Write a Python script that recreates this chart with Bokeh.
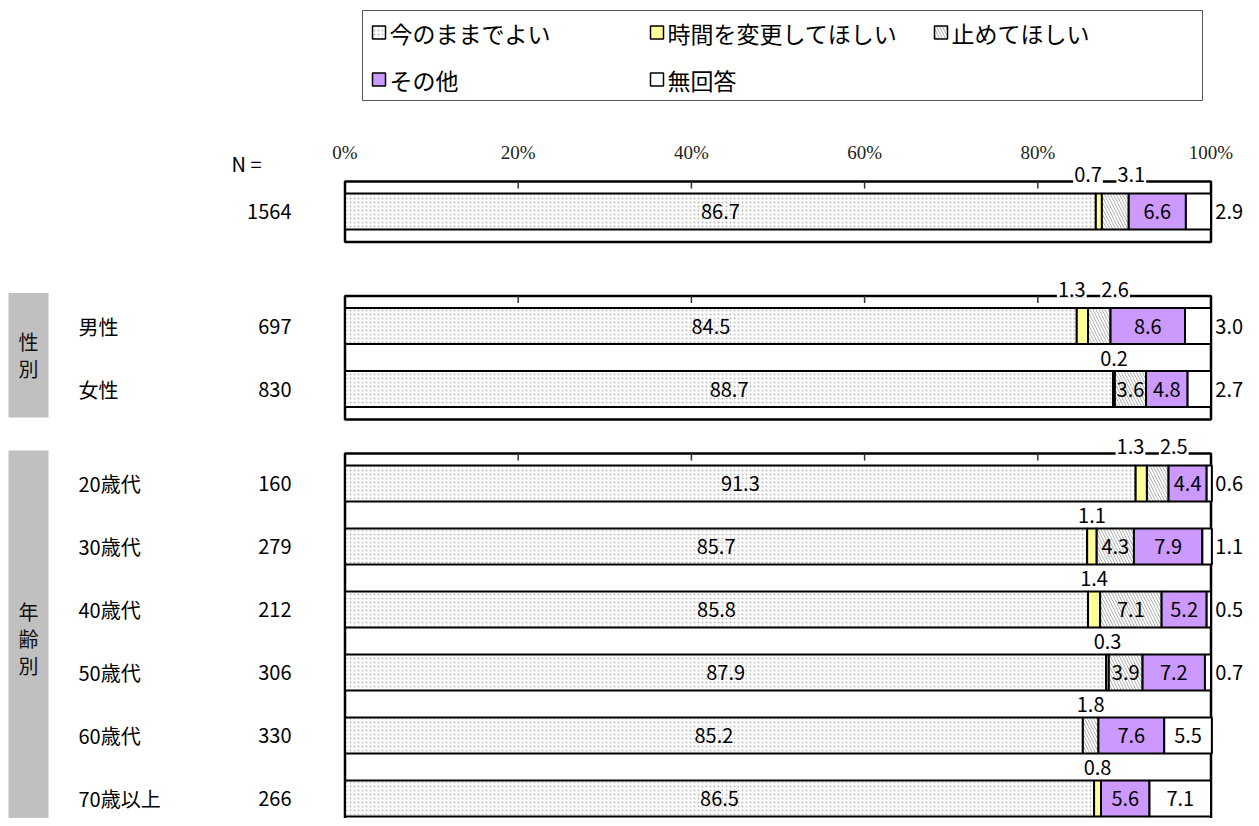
import numpy as np
from bokeh.plotting import figure
from bokeh.models import Range1d, ColumnDataSource
from bokeh.core.properties import value
from bokeh.embed import file_html
from bokeh.resources import INLINE

# ---------------- data ----------------
row_labels = ["", "男性", "女性", "20歳代", "30歳代", "40歳代", "50歳代", "60歳代", "70歳以上"]
row_group = [0, 1, 1, 2, 2, 2, 2, 2, 2]
group_titles = ["", "性\n別", "年\n齢\n別"]
n_counts = [1564, 697, 830, 160, 279, 212, 306, 330, 266]
series_names = ["今のままでよい", "時間を変更してほしい", "止めてほしい", "その他", "無回答"]
keep = [86.7, 84.5, 88.7, 91.3, 85.7, 85.8, 87.9, 85.2, 86.5]
change_time = [0.7, 1.3, 0.2, 1.3, 1.1, 1.4, 0.3, 0.0, 0.8]
stop = [3.1, 2.6, 3.6, 2.5, 4.3, 7.1, 3.9, 1.8, 0.0]
other = [6.6, 8.6, 4.8, 4.4, 7.9, 5.2, 7.2, 7.6, 5.6]
no_answer = [2.9, 3.0, 2.7, 0.6, 1.1, 0.5, 0.7, 5.5, 7.1]
tick_values = [0, 20, 40, 60, 80, 100]
tick_labels = ["0%", "20%", "40%", "60%", "80%", "100%"]

# ---------------- layout (figure pixels) ----------------
W, H = 1251, 818
X0_PX, X100_PX = 344.5, 1210.5
PPU = (X100_PX - X0_PX) / 100.0
XS = -X0_PX / PPU
XE = XS + W / PPU


def fx(px):
    return XS + px / PPU


frame_tops = [181, 295.5, 453]
ROW_OFF = 30.0
ROW_STEP = 63.0
BAR_H = 36
PAD_BOTTOM = 30.5

row_y, idx_in_group, counter = [], [], {}
for g in row_group:
    k = counter.get(g, 0)
    row_y.append(frame_tops[g] + ROW_OFF + k * ROW_STEP)
    idx_in_group.append(k)
    counter[g] = k + 1
frame_bottoms = [max(y for y, g2 in zip(row_y, row_group) if g2 == g) + PAD_BOTTOM for g in range(3)]

SANS = value("Noto Sans CJK JP")
SERIF = value("Liberation Serif")

styles = [
    dict(fill_color="white", hatch_pattern="dot", hatch_color="#bdbdbd", hatch_scale=4, hatch_weight=0.8),
    dict(fill_color="#FFFF99"),
    dict(fill_color="white", hatch_pattern="left_diagonal_line", hatch_color="#b0b0b0", hatch_scale=6, hatch_weight=1),
    dict(fill_color="#CC99FF"),
    dict(fill_color="white"),
]

p = figure(width=W, height=H, x_range=Range1d(XS, XE), y_range=Range1d(H, 0),
           output_backend="svg", toolbar_location=None, min_border=0,
           x_axis_location=None, y_axis_location=None)
p.grid.visible = False
p.outline_line_color = None
p.background_fill_color = "white"

# gray group boxes
for g in (1, 2):
    top = frame_tops[g] - 3
    bot = frame_bottoms[g] - 2
    p.quad(left=[fx(8)], right=[fx(48)], top=[top], bottom=[bot], fill_color="#C0C0C0", line_color=None)
    p.text(x=[fx(28)], y=[(top + bot) / 2], text=[group_titles[g]], text_font=SANS, text_font_size="20px",
           text_align="center", text_baseline="middle", text_line_height=0.93, text_color="#111111")

# frames
p.quad(left=[0] * 3, right=[100] * 3, top=frame_tops, bottom=frame_bottoms,
       fill_color=None, line_color="black", line_width=2.5)
# tick marks inside frames
tx, ty0, ty1 = [], [], []
for ft in frame_tops:
    for t in tick_values[1:-1]:
        tx.append(t); ty0.append(ft); ty1.append(ft + 7)
p.segment(x0=tx, y0=ty0, x1=tx, y1=ty1, line_color="#333333", line_width=1.5)

# tick labels
p.text(x=tick_values, y=[152] * len(tick_values), text=tick_labels, text_font=SERIF,
       text_font_size="19px", text_align="center", text_baseline="middle", text_color="#222222")

# bars
vals = np.array([keep, change_time, stop, other, no_answer], dtype=float)
cum = np.cumsum(vals, axis=0)
lefts = cum - vals
ry = np.array(row_y)
for s in range(5):
    mask = vals[s] > 0
    src = ColumnDataSource(dict(y=ry[mask], left=lefts[s][mask], right=cum[s][mask]))
    p.hbar(y="y", left="left", right="right", height=BAR_H, source=src,
           line_color="black", line_width=2, **styles[s])

# value labels
in_x, in_y, in_t = [], [], []
out_x, out_y, out_t = [], [], []
ab_x, ab_y, ab_t = [], [], []
for r in range(len(row_y)):
    above = []
    for s in range(5):
        v = vals[s][r]
        if v <= 0:
            continue
        c = lefts[s][r] + v / 2
        t = f"{v:.1f}"
        if s in (0, 3) or (s == 2 and v >= 3.5) or (s == 4 and v >= 5):
            in_x.append(c); in_y.append(row_y[r]); in_t.append(t)
        elif s == 4:
            out_x.append(100.5); out_y.append(row_y[r]); out_t.append(t)
        else:
            above.append((c, t))
    ya = row_y[r] - 37 if idx_in_group[r] == 0 else row_y[r] - 31
    if len(above) == 2:
        m = (above[0][0] + above[1][0]) / 2
        xs = [m - 2.2, m + 2.8]
    else:
        xs = [a[0] for a in above]
    for xv, a in zip(xs, above):
        ab_x.append(xv); ab_y.append(ya); ab_t.append(a[1])

p.text(x=in_x, y=in_y, text=in_t, text_font=SANS, text_font_size="20px",
       text_align="center", text_baseline="middle", text_color="black")
p.text(x=out_x, y=out_y, text=out_t, text_font=SANS, text_font_size="20px",
       text_align="left", text_baseline="middle", text_color="black")
p.text(x=ab_x, y=ab_y, text=ab_t, text_font=SANS, text_font_size="20px",
       text_align="center", text_baseline="middle", text_color="black",
       background_fill_color="white", padding=1)

# row labels and N
p.text(x=[fx(231)], y=[163], text=["N ="], text_font=SANS, text_font_size="20px",
       text_align="left", text_baseline="middle", text_color="black")
p.text(x=[fx(78)] * len(row_y), y=row_y, text=row_labels, text_font=SANS, text_font_size="20px",
       text_align="left", text_baseline="middle", text_color="black")
p.text(x=[fx(291)] * len(row_y), y=row_y, text=[str(n) for n in n_counts], text_font=SANS,
       text_font_size="20px", text_align="right", text_baseline="middle", text_color="black")

# legend (manual)
p.quad(left=[fx(362)], right=[fx(1202)], top=[10], bottom=[100], fill_color="white",
       line_color="#555555", line_width=1)
leg_cols = [372, 650, 934]
leg_rows = [32, 79]
for i, name in enumerate(series_names):
    cx = leg_cols[i % 3]
    cy = leg_rows[i // 3]
    p.rect(x=[fx(cx + 6.5)], y=[cy], width=13, height=13, width_units="screen", height_units="screen",
           line_color="black", line_width=1.5, **styles[i])
    p.text(x=[fx(cx + 17)], y=[cy], text=[name], text_font=SANS, text_font_size="23px",
           text_align="left", text_baseline="middle", text_color="black")

open("out.html", "w").write(file_html(p, INLINE))
